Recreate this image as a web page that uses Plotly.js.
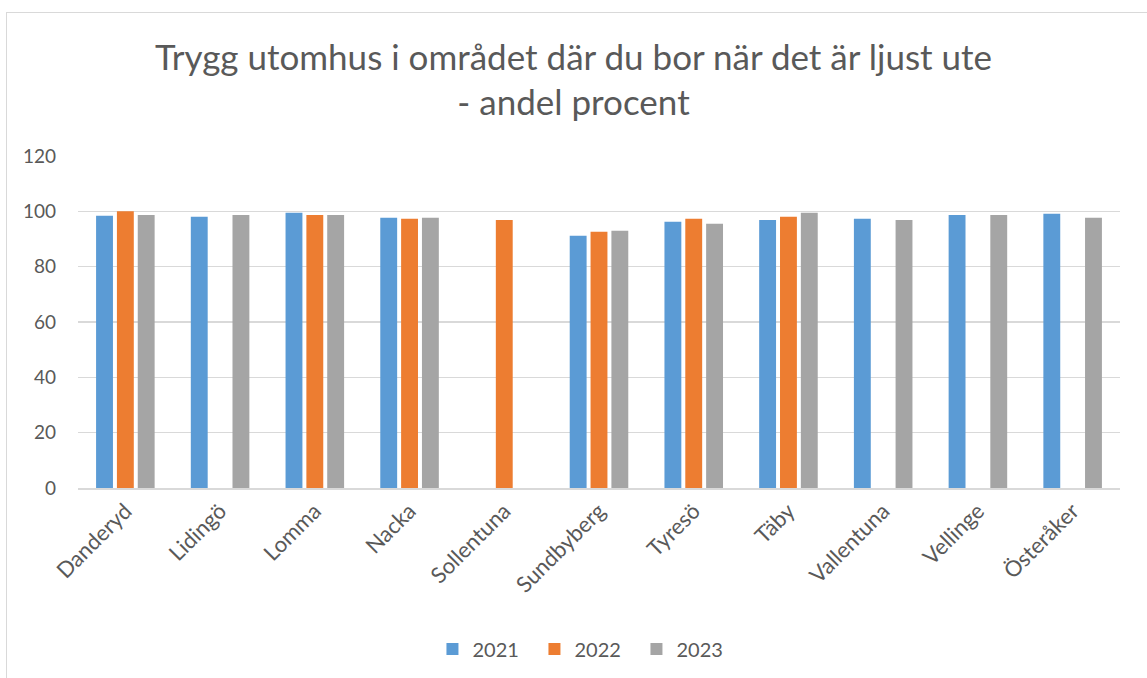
<!DOCTYPE html>
<html>
<head>
<meta charset="utf-8">
<script src="https://cdn.plot.ly/plotly-3.0.1.min.js"></script>
<style>
html,body{margin:0;padding:0;overflow:hidden;background:#fff;}
#chart{width:1147px;height:678px;}
#frame{position:absolute;left:6px;top:12px;width:1300px;height:800px;border:1px solid #d9d9d9;pointer-events:none;}
</style>
</head>
<body>
<div id="chart"></div>
<div id="frame"></div>
<script>
const categories = ["Danderyd","Lidingö","Lomma","Nacka","Sollentuna","Sundbyberg","Tyresö","Täby","Vallentuna","Vellinge","Österåker"];
const values2021 = [98.4, 98.0, 99.5, 97.7, null, 91.2, 96.2, 96.9, 97.3, 98.7, 99.1];
const values2022 = [100, null, 98.7, 97.3, 96.9, 92.6, 97.3, 98.0, null, null, null];
const values2023 = [98.7, 98.7, 98.7, 97.7, null, 93.0, 95.5, 99.5, 96.9, 98.7, 97.7];
const seriesNames = ["2021","2022","2023"];
const colors = ["#5b9bd5","#ed7d31","#a5a5a5"];
const yTicks = [0,20,40,60,80,100,120];

const font = "Lato, 'Open Sans', sans-serif";
const series = [values2021, values2022, values2023];
const data = series.map((v,i)=>({
  type:'bar', x:categories, y:v, name:seriesNames[i],
  marker:{color:colors[i]}, hoverinfo:'x+y+name'
}));

const layout = {
  width:1147, height:678,
  margin:{l:78, r:27, t:156, b:190, autoexpand:false},
  paper_bgcolor:'#fff', plot_bgcolor:'#fff',
  title:{text:"Trygg utomhus i området där du bor när det är ljust ute<br>- andel procent",
    font:{family:font, size:35, color:'#595959'}, x:0.5, xanchor:'center', y:0.897, yanchor:'middle'},
  barmode:'group', bargap:0.34, bargroupgap:0.19,
  showlegend:true,
  legend:{orientation:'h', x:0.487, xanchor:'center', y:-0.485, yanchor:'middle',
    font:{family:font, size:20, color:'#595959'}, itemwidth:30, entrywidth:57, entrywidthmode:'pixels'},
  xaxis:{type:'category', tickangle:-45, tickfont:{family:font, size:22, color:'#595959'},
    showline:true, linecolor:'#d9d9d9', linewidth:1.5, ticks:'', showgrid:false, automargin:false},
  yaxis:{range:[0,120], tickvals:yTicks, ticktext:yTicks.map(String), automargin:false,
    tickfont:{family:font, size:19, color:'#595959'}, showgrid:true, gridcolor:'#d9d9d9',
    gridwidth:1.5, zeroline:false, showline:false, ticks:'', ticklen:0, ticklabelstandoff:21}
};
Plotly.newPlot('chart', data, layout, {displayModeBar:false, staticPlot:true});
</script>
</body>
</html>
